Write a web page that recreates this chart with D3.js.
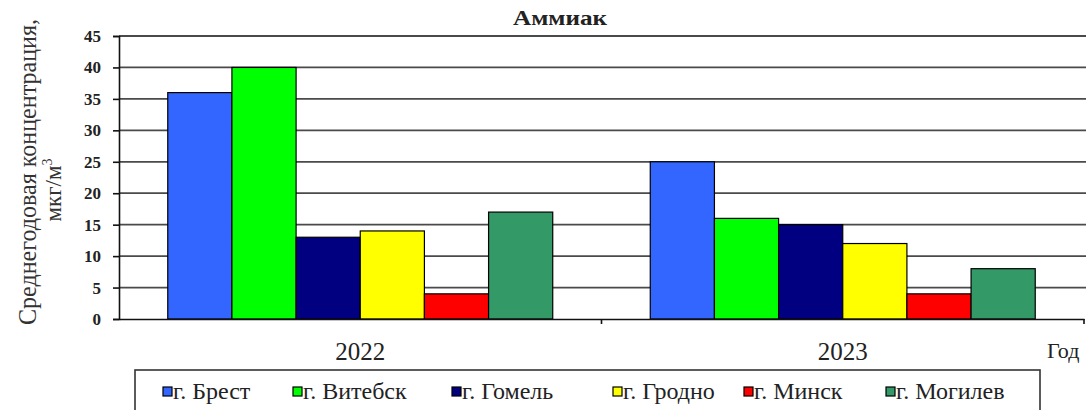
<!DOCTYPE html>
<html><head><meta charset="utf-8"><script src="https://cdn.jsdelivr.net/npm/d3@7"></script></head>
<body style="margin:0">
<svg id="chart" width="1086" height="410"></svg>
<script>
// Annual mean ammonia concentration by city, µg/m³
const years = ["2022", "2023"];
const cities = ["г. Брест", "г. Витебск", "г. Гомель", "г. Гродно", "г. Минск", "г. Могилев"];
const values2022 = [36, 40, 13, 14, 4, 17];
const values2023 = [25, 16, 15, 12, 4, 8];
const cityColors = ["#3366FF", "#00FF00", "#000080", "#FFFF00", "#FF0000", "#339966"];
const yTicks = [0, 5, 10, 15, 20, 25, 30, 35, 40, 45];

const seriesByYear = { "2022": values2022, "2023": values2023 };
const SERIF = '"Liberation Serif"';

const svg = d3.select("#chart");
const plot = { left: 119, right: 1084, top: 36, bottom: 319 };

const x0 = d3.scaleBand().domain(years).range([plot.left, plot.right]).paddingInner(0).paddingOuter(0);
const x1 = d3.scaleBand().domain(cities).range([0, x0.bandwidth()]).paddingInner(0).paddingOuter(0.76);
const y = d3.scaleLinear().domain([0, 45]).range([plot.bottom, plot.top]);
const color = d3.scaleOrdinal().domain(cities).range(cityColors);

// Horizontal gridlines
svg.append("g")
  .selectAll("line")
  .data(yTicks.filter(t => t > 0))
  .join("line")
  .attr("x1", plot.left).attr("x2", 1086)
  .attr("y1", d => y(d)).attr("y2", d => y(d))
  .attr("stroke", "#4a4a4a").attr("stroke-width", 1.8);

// Bars
const groups = svg.append("g")
  .selectAll("g")
  .data(years)
  .join("g")
  .attr("transform", d => `translate(${x0(d)},0)`);

groups.selectAll("rect")
  .data(yr => cities.map((c, i) => ({ city: c, value: seriesByYear[yr][i] })))
  .join("rect")
  .attr("x", d => x1(d.city))
  .attr("y", d => y(d.value))
  .attr("width", x1.bandwidth())
  .attr("height", d => y(0) - y(d.value))
  .attr("fill", d => color(d.city))
  .attr("stroke", "#000")
  .attr("stroke-width", 1.2);

// Y axis
const yAxis = d3.axisLeft(y).tickValues(yTicks).tickSize(6).tickPadding(12);
const gy = svg.append("g").attr("transform", `translate(${plot.left},0)`).call(yAxis);
gy.attr("font-family", null).attr("font-size", null);
gy.select(".domain").attr("stroke", "#111").attr("stroke-width", 1.6);
gy.selectAll(".tick line").attr("stroke", "#111").attr("stroke-width", 1.6);
gy.selectAll(".tick text")
  .style("font-family", SERIF)
  .style("font-weight", "bold")
  .style("font-size", "17px")
  .attr("fill", "#222");

// X axis
const xAxis = d3.axisBottom(x0).tickSize(0);
const gx = svg.append("g").attr("transform", `translate(0,${plot.bottom})`).call(xAxis);
gx.attr("font-family", null).attr("font-size", null);
gx.select(".domain").attr("stroke", "#111").attr("stroke-width", 1.6);
gx.selectAll(".tick text")
  .attr("y", 41).attr("dy", 0)
  .style("font-family", SERIF)
  .style("font-size", "25px")
  .attr("fill", "#222");

// Separators between year groups on the x axis
gx.selectAll("line.sep")
  .data(years.map(yr => x0(yr) + x0.bandwidth()))
  .join("line")
  .attr("class", "sep")
  .attr("x1", d => d).attr("x2", d => d)
  .attr("y1", 0).attr("y2", 5)
  .attr("stroke", "#111").attr("stroke-width", 1.6);

// Title
svg.append("text")
  .attr("x", 560).attr("y", 25)
  .attr("text-anchor", "middle")
  .style("font-family", SERIF)
  .style("font-weight", "bold")
  .style("font-size", "20px")
  .attr("fill", "#222")
  .attr("textLength", 94)
  .attr("lengthAdjust", "spacingAndGlyphs")
  .text("Аммиак");

// Y axis title (two lines)
svg.append("text")
  .attr("transform", "translate(36,172) rotate(-90)")
  .attr("text-anchor", "middle")
  .style("font-family", SERIF)
  .style("font-size", "26px")
  .attr("fill", "#333")
  .attr("textLength", 306)
  .attr("lengthAdjust", "spacingAndGlyphs")
  .text("Среднегодовая концентрация,");

const unit = svg.append("text")
  .attr("transform", "translate(61,190) rotate(-90)")
  .attr("text-anchor", "middle")
  .style("font-family", SERIF)
  .style("font-size", "23px")
  .attr("fill", "#333");
unit.append("tspan").text("мкг/м");
unit.append("tspan").style("font-size", "14px").attr("dy", -9).text("3");

// X axis title
svg.append("text")
  .attr("x", 1047).attr("y", 358)
  .style("font-family", SERIF)
  .style("font-size", "22px")
  .attr("fill", "#222")
  .text("Год");

// Legend
svg.append("rect")
  .attr("x", 135).attr("y", 370)
  .attr("width", 905).attr("height", 60)
  .attr("fill", "#fff")
  .attr("stroke", "#333").attr("stroke-width", 1.6);

const legendX = [163, 293, 452, 613, 744, 886];
const legend = svg.append("g")
  .selectAll("g")
  .data(cities)
  .join("g")
  .attr("transform", (d, i) => `translate(${legendX[i]},387)`);

legend.append("rect")
  .attr("width", 9).attr("height", 9)
  .attr("fill", d => color(d))
  .attr("stroke", "#000").attr("stroke-width", 1.2);

legend.append("text")
  .attr("x", 10).attr("y", 12)
  .style("font-family", SERIF)
  .style("font-size", "24px")
  .attr("fill", "#222")
  .text(d => d);
</script>
</body></html>
